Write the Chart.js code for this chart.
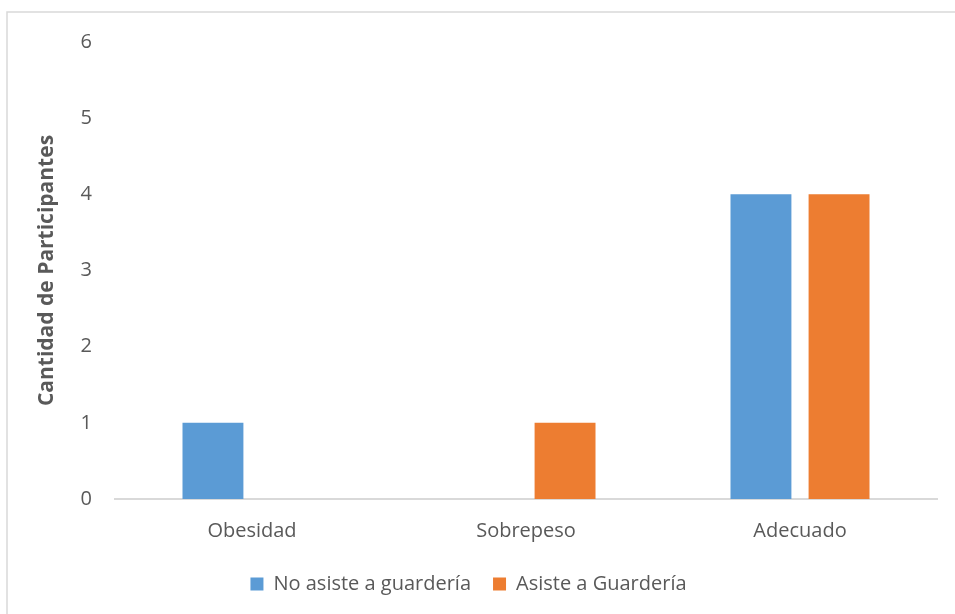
<!DOCTYPE html>
<html>
<head>
<meta charset="utf-8">
<script src="https://cdn.jsdelivr.net/npm/chart.js@4"></script>
<style>
    body { margin: 0; background: #fff; }
    #wrap { position: absolute; left: 0; top: 0; width: 955px; height: 614px; }
</style>
</head>
<body>
<div id="wrap"><canvas id="chart" width="955" height="614"></canvas></div>
<script>
const categories = ['Obesidad', 'Sobrepeso', 'Adecuado'];
const noAsiste = [1, 0, 4];
const asiste = [0, 1, 4];
const seriesNames = ['No asiste a guardería', 'Asiste a Guardería'];
const yTicks = [0, 1, 2, 3, 4, 5, 6];

const textColor = '#595959';
const fontFamily = '"Open Sans", "Noto Sans", sans-serif';

// light frame around the chart, like the office export
const framePlugin = {
    id: 'frame',
    beforeDraw(chart) {
        const c = chart.ctx;
        c.save();
        c.strokeStyle = '#d9d9d9';
        c.lineWidth = 1.5;
        c.beginPath();
        c.moveTo(7, 614);
        c.lineTo(7, 12);
        c.lineTo(955, 12);
        c.stroke();
        c.restore();
    }
};

new Chart(document.getElementById('chart').getContext('2d'), {
    type: 'bar',
    data: {
        labels: categories,
        datasets: [{
            label: seriesNames[0],
            data: noAsiste,
            backgroundColor: '#5B9BD5',
            categoryPercentage: 0.57,
            barPercentage: 0.78
        }, {
            label: seriesNames[1],
            data: asiste,
            backgroundColor: '#ED7D31',
            categoryPercentage: 0.57,
            barPercentage: 0.78
        }]
    },
    options: {
        responsive: false,
        animation: false,
        layout: {
            padding: { top: 42, right: 18, bottom: 10, left: 0 }
        },
        plugins: {
            legend: {
                position: 'bottom',
                labels: {
                    boxWidth: 13,
                    boxHeight: 13,
                    padding: 22,
                    color: textColor,
                    font: { family: fontFamily, size: 20 }
                }
            },
            tooltip: { enabled: false }
        },
        scales: {
            x: {
                grid: { display: false, drawTicks: false },
                border: { color: '#d9d9d9', width: 2 },
                ticks: {
                    color: textColor,
                    padding: 20,
                    font: { family: fontFamily, size: 20 }
                },
                afterFit(scale) { scale.height = 53; }
            },
            y: {
                min: 0,
                max: 6,
                afterBuildTicks(scale) { scale.ticks = yTicks.map(v => ({ value: v })); },
                grid: { display: false, drawTicks: false },
                border: { display: false },
                ticks: {
                    color: textColor,
                    padding: 23,
                    font: { family: fontFamily, size: 20 }
                },
                title: {
                    display: true,
                    text: 'Cantidad de Participantes',
                    color: textColor,
                    padding: { top: 34, bottom: 0 },
                    font: { family: fontFamily, size: 21, weight: 'bold' }
                },
                afterFit(scale) { scale.width = 115; }
            }
        }
    },
    plugins: [framePlugin]
});
</script>
</body>
</html>
